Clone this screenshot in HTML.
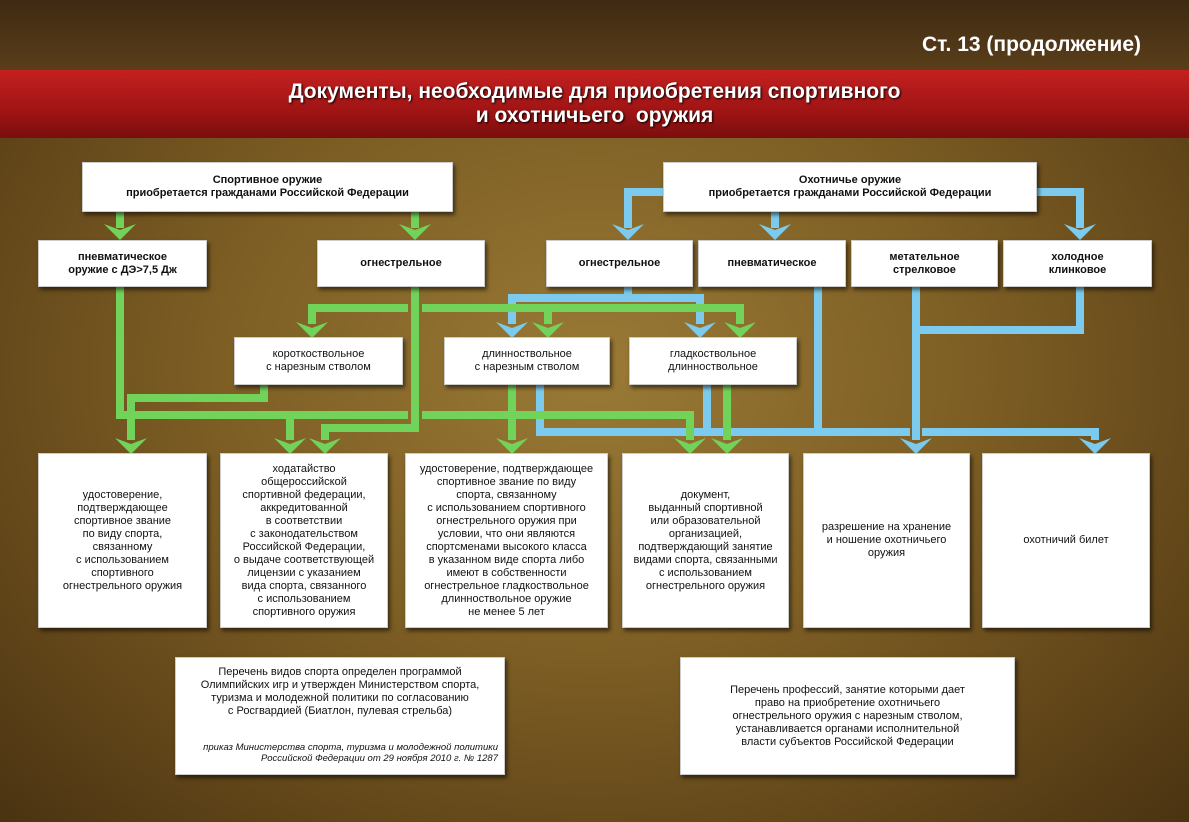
<!DOCTYPE html>
<html><head><meta charset="utf-8"><style>
*{margin:0;padding:0;box-sizing:border-box}
body{width:1189px;height:822px;overflow:hidden;position:relative;font-family:"Liberation Sans",sans-serif;
background:radial-gradient(ellipse at 50% 45%,#9a7a36 0%,#7d5e24 45%,#5e4318 80%,#4a3312 100%)}
.b{position:absolute;background:#fff;border:1px solid #ccc;box-shadow:2px 3px 4px rgba(0,0,0,.55);display:flex;align-items:center;justify-content:center;text-align:center;color:#111;font-size:11px;line-height:13px}
.bd{font-weight:bold;font-size:11px}
svg{position:absolute;left:0;top:0}
</style></head><body>
<div style="position:absolute;left:0;top:0;width:1189px;height:70px;background:linear-gradient(#3e2a12,#5a3e1a)"></div>
<div style="position:absolute;right:48px;top:33px;color:#fff;font-weight:bold;font-size:21px">Ст. 13 (продолжение)</div>
<div style="position:absolute;left:0;top:70px;width:1189px;height:68px;background:linear-gradient(#c42020,#a01414 60%,#7a0e0e);display:flex;align-items:center;justify-content:center;text-align:center;color:#fff;font-weight:bold;font-size:21px;line-height:24px;text-shadow:1px 1px 2px #000">Документы, необходимые для приобретения спортивного<br>и охотничьего&nbsp; оружия</div>

<svg width="1189" height="822">
<defs>
<g id="ag"><polygon points="-16,0 0,6 16,0 0,16" fill="#72d35a"/></g>
<g id="ab"><polygon points="-16,0 0,6 16,0 0,16" fill="#7ccbee"/></g>
</defs>
<g fill="none" stroke-width="8" stroke-linejoin="miter">
<g stroke="#7ccbee">
<polyline points="663,192 628,192 628,228"/>
<polyline points="775,212 775,228"/>
<polyline points="1037,192 1080,192 1080,228"/>
<polyline points="628,287 628,298"/>
<polyline points="512,324 512,298 700,298 700,324"/>
<polyline points="818,287 818,432"/>
<polyline points="916,287 916,440"/>
<polyline points="1080,287 1080,330 916,330"/>
<polyline points="540,385 540,432 910,432"/>
<polyline points="922,432 1095,432 1095,440"/>
<polyline points="707,385 707,432"/>
</g>
<g stroke="#72d35a">
<polyline points="120,212 120,228"/>
<polyline points="415,212 415,228"/>
<polyline points="312,324 312,308 408,308"/>
<polyline points="422,308 740,308 740,324"/>
<polyline points="548,308 548,324"/>
<polyline points="415,287 415,428 325,428 325,440"/>
<polyline points="120,287 120,415 408,415"/>
<polyline points="422,415 690,415 690,440"/>
<polyline points="290,415 290,440"/>
<polyline points="264,385 264,398 131,398 131,440"/>
<polyline points="512,385 512,440"/>
<polyline points="727,385 727,440"/>
</g>
</g>
<use href="#ab" x="628" y="224"/><use href="#ab" x="775" y="224"/><use href="#ab" x="1080" y="224"/>
<use href="#ab" x="512" y="322"/><use href="#ab" x="700" y="322"/>
<use href="#ab" x="916" y="438"/><use href="#ab" x="1095" y="438"/>
<use href="#ag" x="120" y="224"/><use href="#ag" x="415" y="224"/>
<use href="#ag" x="312" y="322"/><use href="#ag" x="548" y="322"/><use href="#ag" x="740" y="322"/>
<use href="#ag" x="131" y="438"/><use href="#ag" x="290" y="438"/><use href="#ag" x="325" y="438"/>
<use href="#ag" x="512" y="438"/><use href="#ag" x="690" y="438"/><use href="#ag" x="727" y="438"/>
</svg>

<div class="b bd" style="left:82px;top:162px;width:371px;height:50px">Спортивное оружие<br>приобретается гражданами Российской Федерации</div>
<div class="b bd" style="left:663px;top:162px;width:374px;height:50px">Охотничье оружие<br>приобретается гражданами Российской Федерации</div>

<div class="b bd" style="left:38px;top:240px;width:169px;height:47px">пневматическое<br>оружие с ДЭ&gt;7,5 Дж</div>
<div class="b bd" style="left:317px;top:240px;width:168px;height:47px">огнестрельное</div>
<div class="b bd" style="left:546px;top:240px;width:147px;height:47px">огнестрельное</div>
<div class="b bd" style="left:698px;top:240px;width:148px;height:47px">пневматическое</div>
<div class="b bd" style="left:851px;top:240px;width:147px;height:47px">метательное<br>стрелковое</div>
<div class="b bd" style="left:1003px;top:240px;width:149px;height:47px">холодное<br>клинковое</div>

<div class="b" style="left:234px;top:337px;width:169px;height:48px">короткоствольное<br>с нарезным стволом</div>
<div class="b" style="left:444px;top:337px;width:166px;height:48px">длинноствольное<br>с нарезным стволом</div>
<div class="b" style="left:629px;top:337px;width:168px;height:48px">гладкоствольное<br>длинноствольное</div>

<div class="b" style="left:38px;top:453px;width:169px;height:175px">удостоверение,<br>подтверждающее<br>спортивное звание<br>по виду спорта,<br>связанному<br>с использованием<br>спортивного<br>огнестрельного оружия</div>
<div class="b" style="left:220px;top:453px;width:168px;height:175px;line-height:13px">ходатайство<br>общероссийской<br>спортивной федерации,<br>аккредитованной<br>в соответствии<br>с законодательством<br>Российской Федерации,<br>о выдаче соответствующей<br>лицензии с указанием<br>вида спорта, связанного<br>с использованием<br>спортивного оружия</div>
<div class="b" style="left:405px;top:453px;width:203px;height:175px">удостоверение, подтверждающее<br>спортивное звание по виду<br>спорта, связанному<br>с использованием спортивного<br>огнестрельного оружия при<br>условии, что они являются<br>спортсменами высокого класса<br>в указанном виде спорта либо<br>имеют в собственности<br>огнестрельное гладкоствольное<br>длинноствольное оружие<br>не менее 5 лет</div>
<div class="b" style="left:622px;top:453px;width:167px;height:175px">документ,<br>выданный спортивной<br>или образовательной<br>организацией,<br>подтверждающий занятие<br>видами спорта, связанными<br>с использованием<br>огнестрельного оружия</div>
<div class="b" style="left:803px;top:453px;width:167px;height:175px">разрешение на хранение<br>и ношение охотничьего<br>оружия</div>
<div class="b" style="left:982px;top:453px;width:168px;height:175px">охотничий билет</div>

<div class="b" style="left:175px;top:657px;width:330px;height:118px;flex-direction:column;justify-content:flex-start;padding-top:8px">
<div>Перечень видов спорта определен программой<br>Олимпийских игр и утвержден Министерством спорта,<br>туризма и молодежной политики по согласованию<br>с Росгвардией (Биатлон, пулевая стрельба)</div>
<div style="font-style:italic;font-size:9.5px;line-height:11px;margin-top:24px;align-self:flex-end;text-align:right;padding-right:6px">приказ Министерства спорта, туризма и молодежной политики<br>Российской Федерации от 29 ноября 2010 г. № 1287</div></div>
<div class="b" style="left:680px;top:657px;width:335px;height:118px">Перечень профессий, занятие которыми дает<br>право на приобретение охотничьего<br>огнестрельного оружия с нарезным стволом,<br>устанавливается органами исполнительной<br>власти субъектов Российской Федерации</div>
</body></html>
